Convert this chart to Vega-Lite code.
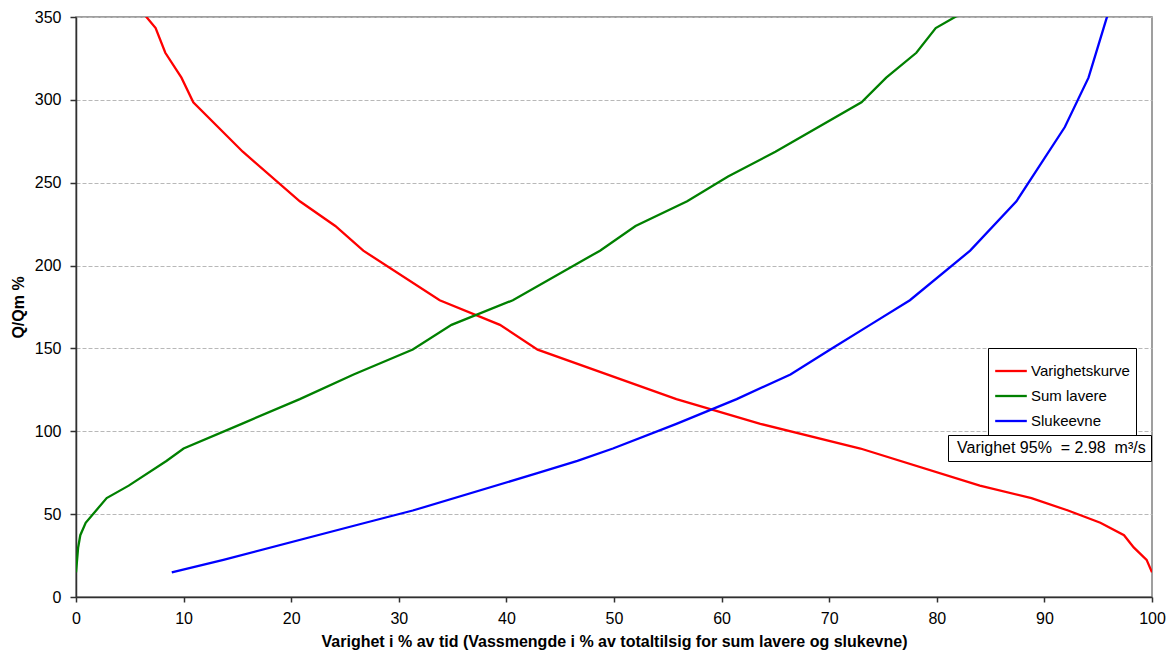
{
  "$schema": "https://vega.github.io/schema/vega-lite/v6.json",
  "width": 1076,
  "height": 580,
  "autosize": "none",
  "padding": {"left": 76, "top": 17, "right": 23, "bottom": 65},
  "background": "white",
  "config": {
    "font": "Liberation Sans",
    "view": {"stroke": "#808080", "strokeWidth": 1.5},
    "axis": {"labelFont": "Liberation Sans", "titleFont": "Liberation Sans", "labelColor": "black", "titleColor": "black"}
  },
  "datasets": {
    "curves": [
      {"serie": "Varighetskurve", "x": 5.5, "q": 358.2},
      {"serie": "Varighetskurve", "x": 7.4, "q": 343.3},
      {"serie": "Varighetskurve", "x": 8.3, "q": 328.4},
      {"serie": "Varighetskurve", "x": 9.8, "q": 313.4},
      {"serie": "Varighetskurve", "x": 10.9, "q": 298.5},
      {"serie": "Varighetskurve", "x": 15.5, "q": 268.7},
      {"serie": "Varighetskurve", "x": 20.8, "q": 238.8},
      {"serie": "Varighetskurve", "x": 24.1, "q": 223.9},
      {"serie": "Varighetskurve", "x": 26.7, "q": 209.0},
      {"serie": "Varighetskurve", "x": 33.8, "q": 179.1},
      {"serie": "Varighetskurve", "x": 39.4, "q": 164.2},
      {"serie": "Varighetskurve", "x": 42.9, "q": 149.3},
      {"serie": "Varighetskurve", "x": 55.8, "q": 119.4},
      {"serie": "Varighetskurve", "x": 63.6, "q": 104.5},
      {"serie": "Varighetskurve", "x": 72.9, "q": 89.6},
      {"serie": "Varighetskurve", "x": 84.0, "q": 67.2},
      {"serie": "Varighetskurve", "x": 88.8, "q": 59.7},
      {"serie": "Varighetskurve", "x": 92.2, "q": 52.2},
      {"serie": "Varighetskurve", "x": 95.2, "q": 44.8},
      {"serie": "Varighetskurve", "x": 97.4, "q": 37.3},
      {"serie": "Varighetskurve", "x": 98.3, "q": 29.9},
      {"serie": "Varighetskurve", "x": 99.5, "q": 22.4},
      {"serie": "Varighetskurve", "x": 100, "q": 14.9},
      {"serie": "Sum lavere", "x": 0.0, "q": 14.9},
      {"serie": "Sum lavere", "x": 0.1, "q": 22.4},
      {"serie": "Sum lavere", "x": 0.2, "q": 29.9},
      {"serie": "Sum lavere", "x": 0.4, "q": 37.3},
      {"serie": "Sum lavere", "x": 0.9, "q": 44.8},
      {"serie": "Sum lavere", "x": 2.85, "q": 59.7},
      {"serie": "Sum lavere", "x": 4.9, "q": 67.2},
      {"serie": "Sum lavere", "x": 8.4, "q": 82.1},
      {"serie": "Sum lavere", "x": 10.0, "q": 89.6},
      {"serie": "Sum lavere", "x": 15.4, "q": 104.5},
      {"serie": "Sum lavere", "x": 20.8, "q": 119.4},
      {"serie": "Sum lavere", "x": 25.8, "q": 134.3},
      {"serie": "Sum lavere", "x": 31.3, "q": 149.3},
      {"serie": "Sum lavere", "x": 34.9, "q": 164.2},
      {"serie": "Sum lavere", "x": 40.6, "q": 179.1},
      {"serie": "Sum lavere", "x": 48.7, "q": 209.0},
      {"serie": "Sum lavere", "x": 52.0, "q": 223.9},
      {"serie": "Sum lavere", "x": 56.8, "q": 238.8},
      {"serie": "Sum lavere", "x": 60.6, "q": 253.7},
      {"serie": "Sum lavere", "x": 65.0, "q": 268.7},
      {"serie": "Sum lavere", "x": 73.0, "q": 298.5},
      {"serie": "Sum lavere", "x": 75.3, "q": 313.4},
      {"serie": "Sum lavere", "x": 78.1, "q": 328.4},
      {"serie": "Sum lavere", "x": 79.9, "q": 343.3},
      {"serie": "Sum lavere", "x": 83.9, "q": 358.2},
      {"serie": "Slukeevne", "x": 8.9, "q": 14.9},
      {"serie": "Slukeevne", "x": 13.7, "q": 22.4},
      {"serie": "Slukeevne", "x": 26.9, "q": 44.8},
      {"serie": "Slukeevne", "x": 31.3, "q": 52.2},
      {"serie": "Slukeevne", "x": 42.8, "q": 74.6},
      {"serie": "Slukeevne", "x": 46.6, "q": 82.1},
      {"serie": "Slukeevne", "x": 49.9, "q": 89.6},
      {"serie": "Slukeevne", "x": 55.8, "q": 104.5},
      {"serie": "Slukeevne", "x": 61.4, "q": 119.4},
      {"serie": "Slukeevne", "x": 66.4, "q": 134.3},
      {"serie": "Slukeevne", "x": 70.1, "q": 149.3},
      {"serie": "Slukeevne", "x": 73.8, "q": 164.2},
      {"serie": "Slukeevne", "x": 77.5, "q": 179.1},
      {"serie": "Slukeevne", "x": 83.1, "q": 209.0},
      {"serie": "Slukeevne", "x": 87.4, "q": 238.8},
      {"serie": "Slukeevne", "x": 91.9, "q": 283.6},
      {"serie": "Slukeevne", "x": 94.1, "q": 313.4},
      {"serie": "Slukeevne", "x": 94.8, "q": 328.4},
      {"serie": "Slukeevne", "x": 95.5, "q": 343.3},
      {"serie": "Slukeevne", "x": 96.2, "q": 358.2}
    ],
    "note": [
      {"note": "Varighet 95%\u00a0 = 2.98\u00a0 m³/s"}
    ]
  },
  "layer": [
    {
      "data": {"name": "curves"},
      "mark": {"type": "line", "strokeWidth": 2.3, "clip": true},
      "encoding": {
        "x": {
          "field": "x", "type": "quantitative",
          "scale": {"domain": [0, 100], "nice": false},
          "axis": {
            "values": [0, 10, 20, 30, 40, 50, 60, 70, 80, 90, 100],
            "grid": false, "labelFlush": false,
            "domainColor": "#303030", "domainWidth": 1.5,
            "tickColor": "#303030", "tickSize": 5, "tickWidth": 1.5,
            "labelFontSize": 16, "labelPadding": 8,
            "title": "Varighet i % av tid (Vassmengde i % av totaltilsig for sum lavere og slukevne)",
            "titleFontSize": 16, "titleFontWeight": "bold", "titlePadding": 7
          }
        },
        "y": {
          "field": "q", "type": "quantitative",
          "scale": {"domain": [0, 350], "nice": false},
          "axis": {
            "values": [0, 50, 100, 150, 200, 250, 300, 350],
            "grid": true, "gridColor": "#b8b8b8", "gridDash": [4, 2], "gridWidth": 1,
            "domainColor": "#303030", "domainWidth": 1.5,
            "tickColor": "#303030", "tickSize": 6, "tickWidth": 1.5,
            "labelFontSize": 16, "labelPadding": 9,
            "title": "Q/Qm %", "titleFontSize": 16, "titleFontWeight": "bold", "titlePadding": 8
          }
        },
        "color": {
          "field": "serie", "type": "nominal",
          "scale": {"domain": ["Varighetskurve", "Sum lavere", "Slukeevne"], "range": ["#FF0000", "#008000", "#0000FF"]},
          "legend": {
            "title": null, "orient": "none", "legendX": 912, "legendY": 331,
            "symbolType": "stroke", "symbolSize": 1000, "symbolStrokeWidth": 2.3,
            "labelFontSize": 15, "labelFont": "Liberation Sans", "labelColor": "black", "labelOffset": 3,
            "strokeColor": "black", "fillColor": "white", "padding": 6, "rowPadding": -4
          }
        }
      }
    },
    {
      "data": {"name": "note"},
      "mark": {"type": "point", "opacity": 0},
      "encoding": {
        "shape": {
          "field": "note", "type": "nominal",
          "legend": {
            "title": null, "orient": "none", "legendX": 872, "legendY": 418,
            "symbolSize": 0, "symbolOpacity": 0, "labelOffset": -12, "labelLimit": 400,
            "labelFontSize": 16, "labelFont": "Liberation Sans", "labelColor": "black",
            "strokeColor": "black", "fillColor": "white", "padding": 5
          }
        }
      }
    }
  ]
}
